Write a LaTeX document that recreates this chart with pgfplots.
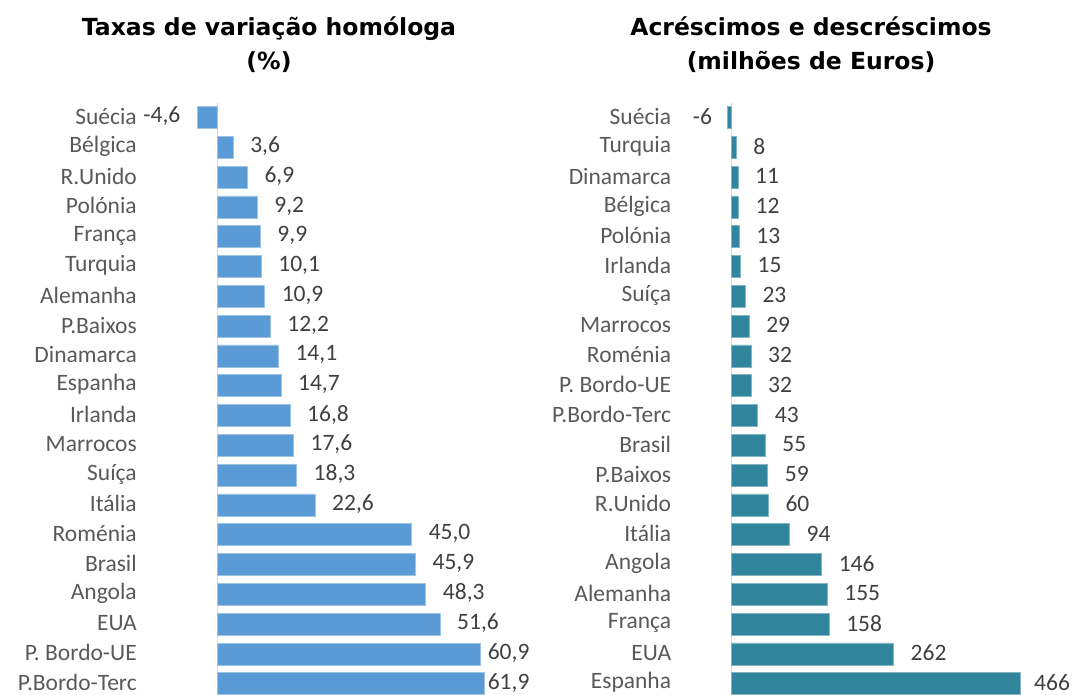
\documentclass[border=0pt]{standalone}
\usepackage{fontspec}
\setmainfont{Carlito}
\newfontfamily\titlefont{DejaVu Sans}
\usepackage{pgfplots}
\pgfplotsset{compat=1.18}

\definecolor{barblue}{HTML}{5B9BD5}
\definecolor{barteal}{HTML}{31859C}
\definecolor{catgray}{HTML}{595959}
\definecolor{valgray}{HTML}{404040}
\definecolor{zerogray}{HTML}{D9D9D9}

\newcommand\lab{\fontsize{23.5bp}{27bp}\selectfont}
\newcommand\ttl{\titlefont\bfseries\fontsize{23.5bp}{28bp}\selectfont}

\pgfplotsset{
  hbars/.style={
    scale only axis, anchor=south west, height=596bp,
    y dir=reverse, ymin=-0.5, ymax=19.5, ytick={0,...,19},
    xtick=\empty, axis line style={draw=none}, major tick length=0pt,
    yticklabel style={anchor=east, inner sep=0pt, yshift=1bp, font=\lab, text=catgray},
    clip=false, point meta=explicit symbolic,
  },
  bars/.style={xbar, bar shift=0pt, bar width=22bp, fill=#1, draw=#1!60!white,
    line width=0.6bp, nodes near coords,
    every node near coord/.append style={anchor=west, inner sep=0pt,
      xshift=17bp, yshift=1bp, font=\lab, text=valgray}},
  % xshift adds up with the 17bp above
  neg/.style={every node near coord/.append style={anchor=east, xshift=#1}},
  lshift/.style={every node near coord/.append style={xshift=#1}},
}

\begin{document}
\begin{tikzpicture}
\useasboundingbox (0,0) rectangle (1074bp,695bp);

\node[anchor=base] at (269bp,659bp) {\ttl Taxas de variação homóloga};
\node[anchor=base] at (269bp,625bp) {\ttl (\%)};
\node[anchor=base] at (811bp,659bp) {\ttl Acréscimos e descréscimos};
\node[anchor=base] at (811bp,625bp) {\ttl (milhões de Euros)};

% taxas de variacao
\begin{axis}[hbars, at={(195.95bp,-3.6bp)}, width=331.9bp, xmin=-5, xmax=72,
  yticklabel style={xshift=-59bp},
  yticklabels={Suécia,Bélgica,R.Unido,Polónia,França,Turquia,Alemanha,P.Baixos,
    Dinamarca,Espanha,Irlanda,Marrocos,Suíça,Itália,Roménia,Brasil,Angola,EUA,
    {P. Bordo-UE\ },P.Bordo-Terc}]
\draw[zerogray, line width=1bp] (axis cs:0,-0.5) -- (axis cs:0,19.5);
\addplot[bars=barblue] coordinates {
  (3.6,1) [3,6] (6.9,2) [6,9] (9.2,3) [9,2] (9.9,4) [9,9] (10.1,5) [10,1]
  (10.9,6) [10,9] (12.2,7) [12,2] (14.1,8) [14,1] (14.7,9) [14,7]
  (16.8,10) [16,8] (17.6,11) [17,6] (18.3,12) [18,3] (22.6,13) [22,6]
  (45.0,14) [45,0] (45.9,15) [45,9] (48.3,16) [48,3] (51.6,17) [51,6]};
\addplot[bars=barblue, neg=-34bp] coordinates {(-4.6,0) [-4,6]};
\addplot[bars=barblue, lshift=-9.5bp] coordinates {(60.9,18) [60,9]};
\addplot[bars=barblue, lshift=-13.8bp] coordinates {(61.9,19) [61,9]};
\end{axis}

% acrescimos e descrescimos
\begin{axis}[hbars, at={(724.8bp,-3.6bp)}, width=334.8bp, xmin=-10, xmax=530,
  yticklabel style={xshift=-53.5bp},
  yticklabels={Suécia,Turquia,Dinamarca,Bélgica,Polónia,Irlanda,Suíça,Marrocos,
    Roménia,{P. Bordo-UE\ },P.Bordo-Terc,Brasil,P.Baixos,R.Unido,Itália,Angola,
    Alemanha,França,EUA,Espanha}]
\draw[zerogray, line width=1bp] (axis cs:0,-0.5) -- (axis cs:0,19.5);
\addplot[bars=barteal] coordinates {
  (8,1) [8] (11,2) [11] (12,3) [12] (13,4) [13] (15,5) [15] (23,6) [23]
  (29,7) [29] (32,8) [32] (32,9) [32] (43,10) [43] (55,11) [55] (59,12) [59]
  (60,13) [60] (94,14) [94] (146,15) [146] (155,16) [155] (158,17) [158]
  (262,18) [262]};
\addplot[bars=barteal, lshift=-3bp] coordinates {(466,19) [466]};
\addplot[bars=barteal, neg=-32bp] coordinates {(-6,0) [-6]};
\end{axis}
\end{tikzpicture}
\end{document}
